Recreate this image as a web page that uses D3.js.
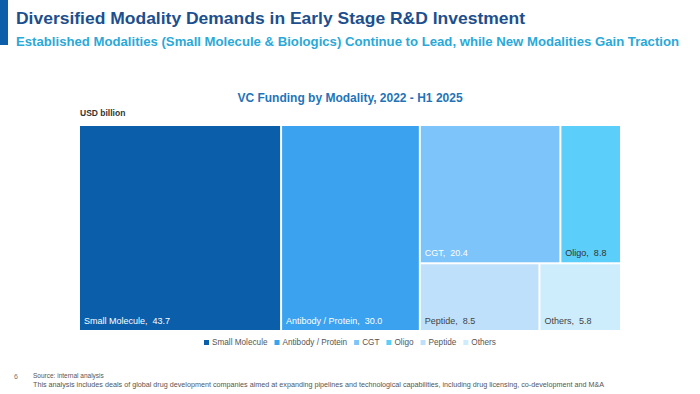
<!DOCTYPE html>
<html>
<head>
<meta charset="utf-8">
<script src="https://cdn.jsdelivr.net/npm/d3@7"></script>
<style>
  body { margin: 0; background: #fff; }
  svg { display: block; font-family: "Liberation Sans", Arial, sans-serif; }
</style>
</head>
<body>
<script>
// Chart data.
var modalities = ["Small Molecule", "Antibody / Protein", "CGT", "Oligo", "Peptide", "Others"];
var funding    = [43.7, 30.0, 20.4, 8.8, 8.5, 5.8];
var colors     = ["#0b5eaa", "#3aa2ef", "#7dc4fa", "#5ccefa", "#bfe0fa", "#cdedfc"];
var labelFill  = ["#fff", "#fff", "#fff", "#333", "#444", "#444"];

var width  = 700,
    height = 394;

var svg = d3.select("body")
    .append("svg")
    .attr("width", width)
    .attr("height", height);

// Header bar + titles.
svg.append("rect")
    .attr("x", 0).attr("y", 0)
    .attr("width", 8).attr("height", 45)
    .attr("fill", "#0b5eaa");

svg.append("text")
    .attr("x", 16).attr("y", 24)
    .attr("font-size", "17px")
    .attr("font-weight", "bold")
    .attr("fill", "#1d4f8e")
    .attr("textLength", 509)
    .attr("lengthAdjust", "spacingAndGlyphs")
    .text("Diversified Modality Demands in Early Stage R&D Investment");

svg.append("text")
    .attr("x", 16).attr("y", 46)
    .attr("font-size", "13px")
    .attr("font-weight", "bold")
    .attr("fill", "#2aa9d9")
    .attr("textLength", 663)
    .attr("lengthAdjust", "spacingAndGlyphs")
    .text("Established Modalities (Small Molecule & Biologics) Continue to Lead, while New Modalities Gain Traction");

svg.append("text")
    .attr("x", 350).attr("y", 102)
    .attr("text-anchor", "middle")
    .attr("font-size", "12px")
    .attr("font-weight", "bold")
    .attr("fill", "#1f74b8")
    .text("VC Funding by Modality, 2022 - H1 2025");

svg.append("text")
    .attr("x", 80).attr("y", 116)
    .attr("font-size", "8.5px")
    .attr("font-weight", "bold")
    .attr("fill", "#333")
    .text("USD billion");

// Treemap: columns split along x, the last column split into two rows.
var x0 = 80, y0 = 126, tw = 540, th = 204;

function leaf(i) { return { name: modalities[i], value: funding[i], i: i }; }

var root = d3.hierarchy({
        children: [
            leaf(0),
            leaf(1),
            { children: [
                { children: [leaf(2), leaf(3)] },
                { children: [leaf(4), leaf(5)] }
            ] }
        ]
    })
    .sum(function(d) { return d.value || 0; });

d3.treemap()
    .tile(d3.treemapSliceDice)
    .size([tw, th])
    .paddingInner(2)(root);

var cells = svg.append("g")
    .attr("transform", "translate(" + x0 + "," + y0 + ")")
    .selectAll("g")
    .data(root.leaves())
  .enter()
    .append("g");

cells.append("rect")
    .attr("x", function(d) { return d.x0; })
    .attr("y", function(d) { return d.y0; })
    .attr("width", function(d) { return d.x1 - d.x0; })
    .attr("height", function(d) { return d.y1 - d.y0; })
    .attr("fill", function(d) { return colors[d.data.i]; });

cells.append("text")
    .attr("x", function(d) { return d.x0 + 4; })
    .attr("y", function(d) { return d.y1 - 6; })
    .attr("font-size", "9px")
    .attr("fill", function(d) { return labelFill[d.data.i]; })
    .attr("xml:space", "preserve")
    .text(function(d) { return d.data.name + ",  " + d3.format(".1f")(d.data.value); });

// Legend.
var legend = svg.append("g").attr("transform", "translate(0,345)");
var lx = 204;
modalities.forEach(function(m, i) {
    var item = legend.append("g").attr("transform", "translate(" + lx + ",0)");
    item.append("rect")
        .attr("x", 0).attr("y", -5)
        .attr("width", 5).attr("height", 5)
        .attr("fill", colors[i]);
    var t = item.append("text")
        .attr("x", 8).attr("y", 0)
        .attr("font-size", "8.2px")
        .attr("fill", "#555")
        .text(m);
    lx += 8 + t.node().getComputedTextLength() + 7;
});

// Footer.
svg.append("text")
    .attr("x", 14).attr("y", 379)
    .attr("font-size", "7px")
    .attr("fill", "#777")
    .text("6");

svg.append("text")
    .attr("x", 33).attr("y", 378)
    .attr("font-size", "6.5px")
    .attr("fill", "#555")
    .text("Source: internal analysis");

svg.append("text")
    .attr("x", 33).attr("y", 387)
    .attr("font-size", "6.5px")
    .attr("fill", "#555")
    .attr("textLength", 571)
    .attr("lengthAdjust", "spacingAndGlyphs")
    .text("This analysis includes deals of global drug development companies aimed at expanding pipelines and technological capabilities, including drug licensing, co-development and M&A");
</script>
</body>
</html>
